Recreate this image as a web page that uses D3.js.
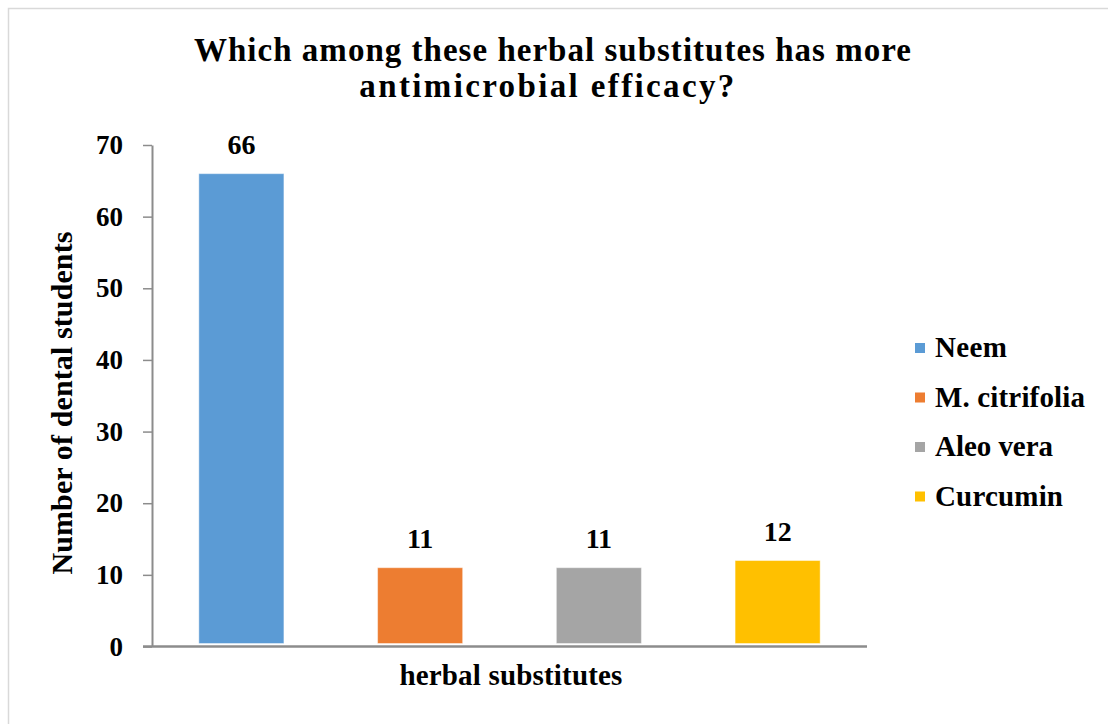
<!DOCTYPE html>
<html>
<head>
<meta charset="utf-8">
<script src="https://cdn.jsdelivr.net/npm/d3@7"></script>
<style>
  html, body { margin: 0; padding: 0; background: #ffffff; }
  svg { display: block; }
</style>
</head>
<body>
<svg id="chart" width="1108" height="724"></svg>
<script>
// Survey answers: which herbal substitute has more antimicrobial efficacy
const categories = ["Neem", "M. citrifolia", "Aleo vera", "Curcumin"];
const values = [66, 11, 11, 12];
const barColors = ["#5B9BD5", "#ED7D31", "#A5A5A5", "#FFC000"];
const yTicks = [0, 10, 20, 30, 40, 50, 60, 70];
const titleLines = ["Which among these herbal substitutes has more", "antimicrobial efficacy?"];
const yAxisTitle = "Number of dental students";
const xAxisTitle = "herbal substitutes";

// apply the chart's bold serif face to a text selection
function boldSerif(sel, size) {
  return sel
    .style("font-family", '"Liberation Serif"')
    .style("font-weight", "bold")
    .style("font-size", size + "px")
    .style("fill", "#000");
}

// spread a text's letters so it spans the given width
function spreadTo(sel, widthOf) {
  sel.each(function (d, i) {
    const w = widthOf(d, i);
    const n = this.textContent.length;
    const cur = this.getComputedTextLength();
    if (n > 1) d3.select(this).style("letter-spacing", ((w - cur) / (n - 1)) + "px");
  });
}

const svg = d3.select("#chart");

// chart frame (left and top edges)
svg.append("path")
  .attr("d", "M8.5,724 V8.5 H1108")
  .attr("fill", "none")
  .attr("stroke", "#d9d9d9")
  .attr("stroke-width", 1.5);

const plot = { left: 152, right: 867, top: 145, bottom: 646.5 };

const x = d3.scaleBand()
  .domain(categories)
  .range([plot.left, plot.right])
  .paddingInner(0.524)
  .paddingOuter(0.262);

const y = d3.scaleLinear()
  .domain([0, 70])
  .range([plot.bottom, plot.top]);

// bars
svg.append("g")
  .selectAll("rect")
  .data(categories)
  .join("rect")
  .attr("x", d => x(d))
  .attr("y", (d, i) => y(values[i]))
  .attr("width", x.bandwidth())
  .attr("height", (d, i) => y(0) - y(values[i]) - 3)
  .attr("fill", (d, i) => barColors[i])
  .attr("stroke", "#ffffff")
  .attr("stroke-opacity", 0.45)
  .attr("stroke-width", 1);

// value labels
svg.append("g")
  .selectAll("text")
  .data(categories)
  .join("text")
  .attr("x", d => x(d) + x.bandwidth() / 2)
  .attr("y", (d, i) => y(values[i]) - 20)
  .attr("text-anchor", "middle")
  .call(boldSerif, 28)
  .text((d, i) => values[i]);

// y axis
const yAxis = svg.append("g")
  .attr("transform", `translate(${plot.left},0)`)
  .call(d3.axisLeft(y).tickValues(yTicks).tickSize(9).tickPadding(20).tickSizeOuter(0));
yAxis.attr("font-family", null).attr("font-size", null);
yAxis.select(".domain").attr("stroke", "#8c8c8c").attr("stroke-width", 2);
yAxis.selectAll(".tick line").attr("stroke", "#8c8c8c").attr("stroke-width", 1.5);
yAxis.selectAll(".tick text").call(boldSerif, 27);

// x axis baseline
svg.append("line")
  .attr("x1", plot.left - 9)
  .attr("x2", plot.right)
  .attr("y1", y(0))
  .attr("y2", y(0))
  .attr("stroke", "#8c8c8c")
  .attr("stroke-width", 2.5);

// title
svg.append("g")
  .selectAll("text")
  .data(titleLines)
  .join("text")
  .attr("x", (d, i) => i === 0 ? 553 : 548)
  .attr("y", (d, i) => 61 + i * 36)
  .attr("text-anchor", "middle")
  .call(boldSerif, 33)
  .text(d => d)
  .call(spreadTo, (d, i) => i === 0 ? 717 : 375);

// axis titles
svg.append("text")
  .attr("transform", "translate(72,403) rotate(-90)")
  .attr("text-anchor", "middle")
  .call(boldSerif, 30)
  .text(yAxisTitle)
  .call(spreadTo, () => 343);

svg.append("text")
  .attr("x", 511)
  .attr("y", 685)
  .attr("text-anchor", "middle")
  .call(boldSerif, 29)
  .text(xAxisTitle)
  .call(spreadTo, () => 223);

// legend
const legendWidths = [72, 150, 118, 128];
const legend = svg.append("g")
  .selectAll("g")
  .data(categories)
  .join("g")
  .attr("transform", (d, i) => `translate(915,${348 + i * 49.5})`);

legend.append("rect")
  .attr("x", 0)
  .attr("y", -5)
  .attr("width", 10)
  .attr("height", 10)
  .attr("fill", (d, i) => barColors[i]);

legend.append("text")
  .attr("x", 20)
  .attr("y", 9)
  .call(boldSerif, 29)
  .text(d => d)
  .call(spreadTo, (d, i) => legendWidths[i]);
</script>
</body>
</html>
